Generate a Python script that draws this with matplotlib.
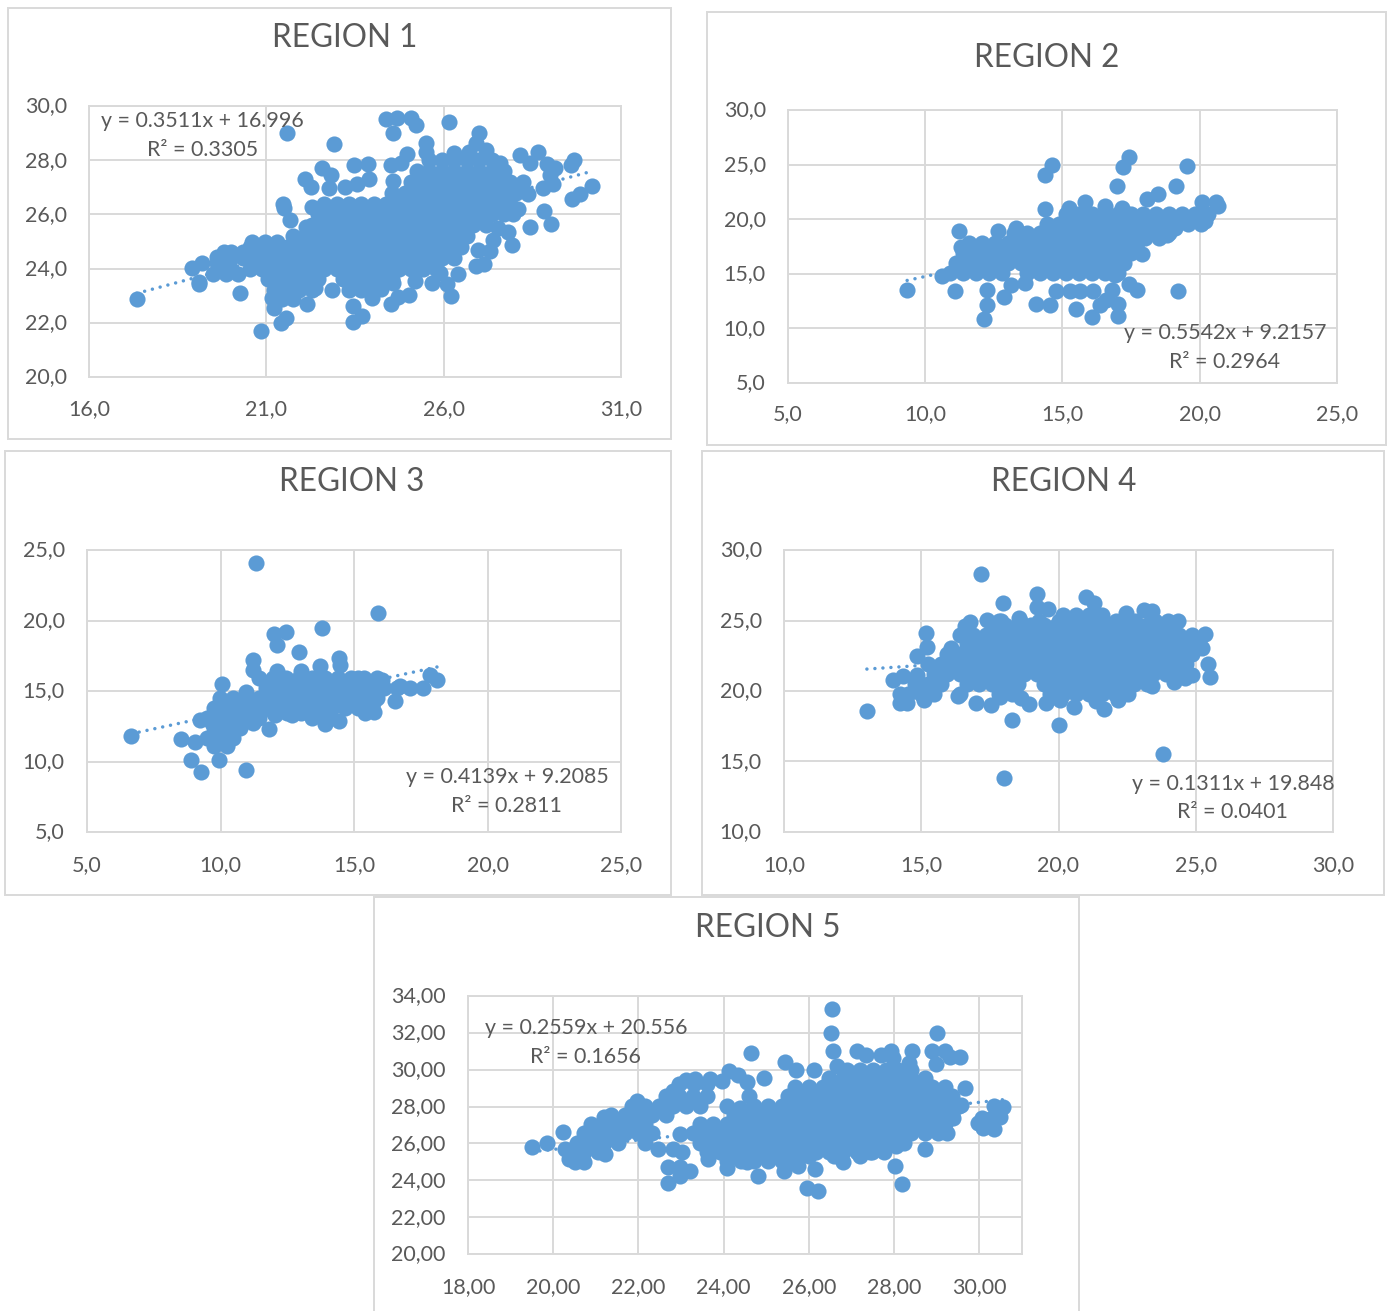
import matplotlib
matplotlib.use('Agg')
import matplotlib.pyplot as plt
from matplotlib.patches import Rectangle
from matplotlib.ticker import FuncFormatter
from matplotlib.transforms import ScaledTranslation

# Points: the dense part as (y, [x, ...]) rows, the edges as (x, y)
region1_rows = [
    (28.0, [25.6, 25.95, 26.3, 26.65, 27.0, 27.35]),
    (27.6, [25.25, 25.6, 25.95, 26.3, 26.65, 27.0, 27.35, 27.7]),
    (27.2, [25.08, 25.43, 25.78, 26.13, 26.48, 26.83, 27.18, 27.53, 27.88, 28.23]),
    (26.8, [24.55, 24.9, 25.25, 25.6, 25.95, 26.3, 26.65, 27.0, 27.35, 27.7, 28.05]),
    (26.4, [22.63, 22.98, 23.33, 23.68, 24.03, 24.38, 24.73, 25.08, 25.43, 25.78, 26.13, 26.48, 26.83, 27.18, 27.53, 27.88]),
    (26.0, [22.45, 22.8, 23.15, 23.5, 23.85, 24.2, 24.55, 24.9, 25.25, 25.6, 25.95, 26.3, 26.65, 27.0, 27.35, 27.7, 27.95]),
    (25.6, [22.28, 22.63, 22.98, 23.33, 23.68, 24.03, 24.38, 24.73, 25.08, 25.43, 25.78, 26.13, 26.48, 26.83, 27.18]),
    (25.2, [21.75, 22.1, 22.45, 22.8, 23.15, 23.5, 23.85, 24.2, 24.55, 24.9, 25.25, 25.6, 25.95, 26.3, 26.65]),
    (25.0, [20.6, 20.95, 21.3]),
    (24.8, [20.53, 20.88, 21.23, 21.58, 21.93, 22.28, 22.63, 22.98, 23.33, 23.68, 24.03, 24.38, 24.73, 25.08, 25.43, 25.78, 26.13, 26.48]),
    (24.6, [20.0, 20.35]),
    (24.4, [20.35, 20.7, 21.05, 21.4, 21.75, 22.1, 22.45, 22.8, 23.15, 23.5, 23.85, 24.2, 24.55, 24.9, 25.25, 25.6, 25.95, 26.3]),
    (24.2, [19.6, 19.95]),
    (24.0, [20.53, 20.88, 21.23, 21.58, 21.93, 22.28, 22.63, 22.98, 23.33, 23.68, 24.03, 24.38, 24.73, 25.08, 25.43, 25.78]),
    (23.8, [19.5, 19.85, 20.2]),
    (23.6, [21.05, 21.4, 21.75, 22.1, 22.45, 23.15, 23.5, 23.85, 24.2, 24.55]),
    (23.2, [21.23, 21.58, 21.93, 22.28, 23.33, 23.68, 24.03]),
]
region1_edge = [
    (17.35, 22.89), (18.9, 24.02), (19.18, 24.21), (19.11, 23.42), (19.11, 23.5), (19.8, 24.62), (19.61, 24.43),
    (20.27, 23.1), (20.85, 21.71), (21.4, 21.99), (21.56, 22.19), (21.21, 22.56), (21.17, 22.93), (21.74, 22.89),
    (21.45, 22.89), (22.15, 22.7), (22.85, 23.2), (22.36, 23.29), (23.45, 22.03), (23.7, 22.25), (23.45, 22.61),
    (24.52, 22.68), (24.7, 22.95), (25.02, 23.03), (23.98, 22.93), (24.22, 23.26), (24.56, 23.47), (25.2, 23.56),
    (26.2, 22.99), (26.09, 23.42), (25.68, 23.48), (26.41, 23.79), (25.9, 23.84), (27.14, 24.16), (26.92, 24.1),
    (26.97, 24.7), (27.31, 24.65), (27.94, 24.86), (27.38, 25.05), (27.81, 25.35), (27.52, 25.48), (28.44, 25.53),
    (29.03, 25.66), (28.83, 26.13), (28.09, 26.2), (29.62, 26.56), (29.83, 26.77), (30.17, 27.04), (29.07, 27.14),
    (28.79, 26.99), (28.38, 26.77), (29.13, 27.72), (28.9, 27.85), (29.0, 27.45), (29.67, 28.02), (29.58, 27.82),
    (28.67, 28.31), (28.14, 28.18), (28.43, 27.88), (27.6, 27.88), (27.0, 29.02), (26.9, 28.62), (27.19, 28.37),
    (26.71, 28.31), (26.28, 28.25), (26.16, 29.4), (25.49, 28.62), (25.51, 28.31), (24.96, 28.22), (24.8, 27.88),
    (24.51, 27.84), (24.37, 29.51), (24.68, 29.54), (25.08, 29.54), (25.23, 29.29), (24.58, 29.0), (22.9, 28.6),
    (21.58, 29.01), (22.58, 27.72), (23.46, 27.82), (23.86, 27.85), (22.09, 27.32), (22.26, 27.02), (22.82, 27.45),
    (22.78, 26.99), (23.22, 27.02), (23.55, 27.14), (23.89, 27.32), (24.58, 27.24), (21.46, 26.4), (21.5, 26.22),
    (22.28, 26.28), (21.68, 25.81), (22.12, 25.54),
]

region2_rows = [
    (20.5, [15.13, 15.6, 16.07, 16.54, 17.01, 17.48, 17.95, 18.42, 18.89, 19.36, 19.83, 20.3]),
    (20.1, [17.7, 18.2, 18.7, 19.2, 19.7, 20.2]),
    (19.6, [14.42, 14.89, 15.36, 15.83, 16.3, 16.77, 17.24, 17.71, 18.18, 18.65, 19.12, 19.59, 20.06]),
    (19.15, [15.6, 16.1, 16.6, 17.1, 17.6, 18.1, 18.6, 19.1]),
    (18.7, [13.25, 13.72, 14.19, 14.66, 15.13, 15.6, 16.07, 16.54, 17.01, 17.48, 17.95, 18.42, 18.89]),
    (18.25, [13.5, 14.0, 14.5, 15.0, 15.5, 16.0, 16.5, 17.0, 17.5, 18.0, 18.5]),
    (17.8, [11.6, 12.07, 12.54, 13.01, 13.48, 13.95, 14.42, 14.89, 15.36, 15.83, 16.3, 16.77, 17.24, 17.71]),
    (16.9, [11.37, 11.84, 12.31, 12.78, 13.25, 13.72, 14.19, 14.66, 15.13, 15.6, 16.07, 16.54, 17.01, 17.48]),
    (16.45, [11.6, 12.1, 12.6, 13.5, 14.4, 15.3, 16.3, 17.2]),
    (16.0, [11.13, 11.6, 12.07, 12.54, 13.01, 13.48, 13.95, 14.42, 14.89, 15.36, 15.83, 16.3, 16.77, 17.24]),
    (15.1, [10.9, 11.37, 11.84, 12.31, 12.78, 13.72, 14.19, 14.66, 15.13, 15.6, 16.07, 16.54, 17.01]),
]
region2_edge = [
    (9.34, 13.54), (10.6, 14.8), (11.07, 13.41), (11.24, 18.93), (11.29, 17.5), (12.65, 18.96), (13.32, 19.18),
    (12.26, 13.48), (12.86, 12.87), (12.25, 12.1), (12.13, 10.85), (13.14, 14.0), (13.63, 14.2), (14.05, 12.2),
    (14.55, 12.1), (15.51, 11.8), (16.09, 11.0), (17.03, 11.1), (17.03, 12.2), (16.36, 12.16), (16.6, 12.62),
    (14.78, 13.47), (15.27, 13.47), (15.63, 13.47), (16.12, 13.38), (16.79, 13.54), (17.43, 14.05), (17.72, 13.54),
    (19.22, 13.38), (14.38, 20.95), (14.36, 24.05), (14.61, 24.97), (17.19, 24.82), (17.43, 25.67), (19.53, 24.85),
    (16.97, 23.08), (19.14, 23.05), (18.49, 22.29), (18.09, 21.86), (15.82, 21.62), (15.23, 21.0), (16.56, 21.25),
    (17.15, 21.07), (20.07, 21.62), (20.6, 21.62), (20.68, 21.22), (20.19, 19.79), (18.8, 18.57), (17.88, 16.8),
    (16.91, 14.9),
]

region3_rows = [
    (15.9, [11.46, 11.95, 12.44, 12.93, 13.42, 13.91, 14.4, 14.89, 15.38, 15.87]),
    (15.55, [11.7, 12.2, 12.7, 13.2, 13.7, 14.2, 14.7, 15.2, 15.7, 16.0]),
    (15.2, [11.71, 12.2, 12.69, 13.18, 13.67, 14.16, 14.65, 15.14, 15.63, 16.12, 16.61, 17.1, 17.59]),
    (14.5, [9.99, 10.48, 10.97, 11.46, 11.95, 12.44, 12.93, 13.42, 13.91, 14.4, 14.89, 15.38, 15.87]),
    (14.15, [10.2, 10.7, 11.2, 11.7, 12.2, 12.7, 13.2, 13.7, 14.2, 14.7, 15.2, 15.7]),
    (13.8, [9.75, 10.24, 10.73, 11.22, 11.71, 12.2, 12.69, 13.18, 13.67, 14.16, 14.65, 15.14, 15.63]),
    (13.45, [9.9, 10.4, 10.9, 11.4, 12.0, 12.5, 13.0, 13.5, 14.0]),
    (13.1, [9.5, 9.99, 10.48, 10.97, 11.46, 13.42, 13.91]),
    (12.75, [9.7, 10.2, 10.7, 11.2]),
    (12.4, [9.75, 10.24, 10.73]),
    (11.7, [9.5, 9.99, 10.48]),
    (11.1, [9.75, 10.24]),
]
region3_edge = [
    (6.66, 11.83), (8.52, 11.6), (8.9, 10.08), (9.28, 9.26), (9.95, 10.08), (10.94, 9.37), (9.05, 11.36),
    (11.82, 12.3), (11.32, 24.05), (15.89, 20.56), (13.8, 19.44), (12.02, 19.04), (12.44, 19.16), (12.11, 18.29),
    (12.94, 17.74), (11.22, 17.22), (11.22, 16.47), (14.45, 17.34), (14.48, 16.87), (10.04, 15.5), (10.96, 14.9),
    (9.24, 12.97), (14.45, 12.9), (13.92, 12.66), (18.12, 15.8), (17.84, 16.16), (16.72, 15.33), (15.16, 15.92),
    (16.03, 15.8), (12.11, 16.39), (13.0, 16.39), (13.73, 16.75), (16.53, 14.27), (15.41, 13.44), (15.76, 13.51),
    (12.67, 13.32), (12.04, 13.27),
]

region4_rows = [
    (25.4, [20.17, 20.64, 21.11, 21.58]),
    (25.0, [17.9, 18.6, 19.3, 20.0, 20.7, 21.4, 22.1, 22.8, 23.5, 24.0]),
    (24.7, [17.59, 18.06, 18.53, 19.0, 19.47, 19.94, 20.41, 20.88, 21.35, 21.82, 22.29, 22.76, 23.23, 23.7, 24.17]),
    (24.0, [16.41, 16.88, 17.35, 17.82, 18.29, 18.76, 19.23, 19.7, 20.17, 20.64, 21.11, 21.58, 22.05, 22.52, 22.99, 23.46, 23.93, 24.4, 24.87]),
    (23.3, [16.65, 17.12, 17.59, 18.06, 18.53, 19.0, 19.47, 19.94, 20.41, 20.88, 21.35, 21.82, 22.29, 22.76, 23.23, 23.7, 24.17, 24.64, 25.11]),
    (22.6, [15.94, 16.41, 16.88, 17.35, 17.82, 18.29, 18.76, 19.23, 19.7, 20.17, 20.64, 21.11, 21.58, 22.05, 22.52, 22.99, 23.46, 23.93, 24.4, 24.87]),
    (21.9, [15.24, 15.71, 16.18, 16.65, 17.12, 17.59, 18.06, 18.53, 19.0, 19.47, 19.94, 20.41, 20.88, 21.35, 21.82, 22.29, 22.76, 23.23, 23.7, 24.17, 24.64]),
    (21.2, [15.47, 15.94, 16.41, 16.88, 17.35, 17.82, 18.29, 18.76, 19.23, 19.7, 20.17, 20.64, 21.11, 21.58, 22.05, 22.52, 22.99, 23.46, 23.93, 24.4]),
    (20.5, [14.77, 15.24, 15.71, 16.65, 17.12, 17.59, 18.06, 18.53, 19.47, 19.94, 20.41, 20.88, 21.35, 21.82, 22.29, 22.76, 23.23]),
    (19.8, [14.53, 15.0, 15.47, 16.41, 17.82, 18.29, 19.7, 20.17, 20.64, 21.11, 21.58, 22.05, 22.52]),
]
region4_edge = [
    (13.02, 18.56), (17.19, 28.33), (17.99, 26.23), (19.23, 26.86), (19.2, 25.94), (19.62, 25.83), (21.02, 26.65),
    (21.3, 26.27), (22.46, 25.52), (23.11, 25.75), (23.39, 25.68), (24.37, 25.0), (25.34, 24.06), (25.22, 23.04),
    (25.43, 21.93), (25.52, 20.97), (24.85, 21.16), (24.61, 20.92), (24.21, 20.64), (23.39, 20.38), (22.18, 19.34),
    (21.65, 18.75), (21.36, 19.27), (20.56, 18.87), (20.04, 19.34), (19.56, 19.15), (18.93, 19.1), (18.65, 19.5),
    (17.86, 19.58), (17.53, 18.99), (17.0, 19.15), (16.34, 19.67), (15.09, 19.39), (14.48, 19.15), (14.23, 19.15),
    (14.21, 19.81), (13.97, 20.75), (14.33, 21.04), (14.85, 21.1), (14.84, 22.45), (15.21, 23.11), (15.18, 24.1),
    (16.09, 23.04), (18.32, 17.92), (20.02, 17.62), (23.8, 15.5), (18.02, 13.8), (16.58, 24.58), (16.79, 24.86),
    (17.4, 25.05), (17.83, 25.0), (18.55, 25.17),
]

region5_rows = [
    (30.0, [26.9, 27.2, 27.5, 27.8, 28.1, 28.4]),
    (29.55, [26.48, 26.8, 27.12, 27.44, 27.76, 28.08, 28.4, 28.72]),
    (29.2, [22.95, 23.3, 23.6]),
    (29.05, [25.68, 26.0, 26.32, 26.64, 26.96, 27.28, 27.6, 27.92, 28.24, 28.56, 28.88, 29.2]),
    (28.55, [22.64, 22.96, 23.28, 23.6, 25.52, 25.84, 26.16, 26.48, 26.8, 27.12, 27.44, 27.76, 28.08, 28.4, 28.72, 29.04, 29.36]),
    (28.3, [23.0, 23.4]),
    (28.05, [21.84, 22.16, 22.48, 22.8, 23.12, 23.44, 24.72, 25.04, 25.36, 25.68, 26.0, 26.32, 26.64, 26.96, 27.28, 27.6, 27.92, 28.24, 28.56, 28.88, 29.2, 29.52]),
    (27.55, [21.36, 21.68, 22.0, 22.32, 22.64, 24.24, 24.56, 24.88, 25.2, 25.52, 25.84, 26.16, 26.48, 26.8, 27.12, 27.44, 27.76, 28.08, 28.4, 28.72, 29.04, 29.36]),
    (27.05, [20.88, 21.2, 21.52, 21.84, 22.16, 23.44, 23.76, 24.08, 24.4, 24.72, 25.04, 25.36, 25.68, 26.0, 26.32, 26.64, 26.96, 27.28, 27.6, 27.92, 28.24, 28.56, 28.88, 29.2]),
    (26.55, [20.72, 21.04, 21.36, 21.68, 22.0, 22.32, 23.28, 23.6, 23.92, 24.24, 24.56, 24.88, 25.2, 25.52, 25.84, 26.16, 26.48, 26.8, 27.12, 27.44, 27.76, 28.08, 28.4, 28.72, 29.04]),
    (26.05, [20.56, 20.88, 21.2, 21.52, 22.16, 23.44, 23.76, 24.08, 24.4, 24.72, 25.04, 25.36, 25.68, 26.0, 26.32, 26.64, 26.96, 27.28, 27.6, 27.92, 28.24]),
    (25.55, [20.4, 20.72, 21.04, 23.6, 23.92, 24.24, 24.56, 24.88, 25.2, 25.52, 25.84, 26.16, 26.48, 26.8, 27.12, 27.44, 27.76]),
    (25.3, [24.2, 24.8, 25.4, 26.0, 26.6, 27.2]),
    (25.05, [24.08, 24.4, 24.72, 25.04, 25.36, 25.68]),
]
region5_edge = [
    (19.5, 25.83), (19.85, 26.04), (20.23, 26.62), (20.36, 25.15), (20.52, 24.97), (20.73, 24.97), (21.22, 25.42),
    (20.28, 25.69), (21.18, 27.44), (21.96, 28.29), (22.82, 28.83), (23.11, 29.45), (23.33, 29.49), (23.68, 29.49),
    (23.95, 29.4), (24.13, 29.94), (24.34, 29.72), (24.55, 29.36), (24.63, 30.89), (24.59, 28.56), (24.95, 29.54),
    (25.45, 30.4), (25.7, 29.96), (26.13, 29.99), (26.53, 33.31), (26.52, 32.0), (26.57, 31.01), (26.65, 30.22),
    (27.13, 31.03), (27.34, 30.8), (27.68, 30.8), (27.92, 31.01), (27.98, 30.62), (28.41, 31.01), (28.35, 30.35),
    (29.01, 32.0), (28.89, 31.01), (29.19, 31.01), (29.32, 30.67), (29.55, 30.71), (28.99, 30.3), (29.66, 29.0),
    (30.55, 27.98), (30.34, 28.05), (30.48, 27.44), (29.97, 27.12), (30.09, 26.85), (30.34, 26.8), (30.25, 27.3),
    (30.05, 27.4), (26.8, 24.97), (27.49, 25.56), (28.02, 24.75), (28.18, 23.8), (25.95, 23.59), (26.22, 23.44),
    (26.14, 24.61), (25.75, 24.79), (25.41, 24.52), (24.81, 24.25), (24.55, 24.97), (24.07, 24.65), (23.64, 25.15),
    (22.7, 23.86), (22.7, 24.7), (22.98, 24.25), (23.21, 24.52), (22.98, 24.7), (23.02, 25.54), (22.82, 25.69),
    (22.45, 25.72), (22.98, 26.53), (24.07, 28.02), (24.38, 27.93), (28.72, 25.69), (28.05, 25.86), (29.23, 26.58),
    (29.38, 27.39), (29.58, 28.1),
]

W, H = 1387, 1311
BLUE = '#5B9BD5'
GRID = '#D9D9D9'
TEXT = '#595959'

plt.rcParams['font.family'] = ['Lato', 'DejaVu Sans']

fig = plt.figure(figsize=(W / 100, H / 100), dpi=100, facecolor='white')


def fx(px):
    return px / W


def fy(py):
    return 1 - py / H


# Draw one chart panel, all the placement arguments are in pixels of the picture
def draw_region(title, rows, edge, slope, intercept, eq, r2, frame, plot_box, title_pos,
                eq_pos, r2_pos, xlim, ylim, xticks, yticks, xpad=15, decimals=1):
    x0, y0, x1, y1 = frame
    fig.add_artist(Rectangle((fx(x0), fy(y1)), (x1 - x0) / W, (y1 - y0) / H, transform=fig.transFigure,
                             facecolor='white', edgecolor=GRID, linewidth=1.4, zorder=-1))

    left, top, right, bottom = plot_box
    ax = fig.add_axes([fx(left), fy(bottom), (right - left) / W, (bottom - top) / H])

    xs = [p[0] for p in edge]
    ys = [p[1] for p in edge]
    for y, row in rows:
        xs.extend(row)
        ys.extend([y] * len(row))

    line_x = [min(xs), max(xs)]
    line_y = [slope * v + intercept for v in line_x]
    ax.plot(line_x, line_y, color=BLUE, linewidth=2.5, dash_capstyle='round',
            linestyle=(0, (0.01, 2.3)), zorder=2)
    ax.scatter(xs, ys, s=135, color=BLUE, linewidths=0, zorder=3)

    ax.set_xlim(xlim)
    ax.set_ylim(ylim)
    ax.set_xticks(xticks)
    ax.set_yticks(yticks)
    comma = FuncFormatter(lambda v, pos: f'{v:.{decimals}f}'.replace('.', ','))
    ax.xaxis.set_major_formatter(comma)
    ax.yaxis.set_major_formatter(comma)
    ax.tick_params(length=0, labelsize=15.5, labelcolor=TEXT)
    ax.tick_params(axis='x', pad=xpad)
    ax.tick_params(axis='y', pad=16)
    # y labels sit a little higher than matplotlib centres them
    up = ScaledTranslation(0, 1.5 / 100, fig.dpi_scale_trans)
    for label in ax.get_yticklabels():
        label.set_transform(label.get_transform() + up)
    ax.grid(True, color=GRID, linewidth=1.4)
    ax.set_axisbelow(True)
    for spine in ax.spines.values():
        spine.set_color(GRID)
        spine.set_linewidth(1.4)

    fig.text(fx(title_pos[0]), fy(title_pos[1] + 2), title, fontsize=22.7, color=TEXT, ha='center', va='center')
    fig.text(fx(eq_pos[0]), fy(eq_pos[1] + 2), eq, fontsize=15.4, color=TEXT, ha='left', va='center', zorder=5)
    fig.text(fx(r2_pos[0]), fy(r2_pos[1] + 2), r2, fontsize=15.4, color=TEXT, ha='left', va='center', zorder=5)


draw_region('REGION 1', region1_rows, region1_edge, 0.3511, 16.996, 'y = 0.3511x + 16.996', 'R² = 0.3305',
            (8, 8, 671, 439), (89, 106, 621, 377), (345, 36), (101, 119), (147, 148),
            (16, 31), (20, 30), [16, 21, 26, 31], [20, 22, 24, 26, 28, 30], xpad=15.7)
draw_region('REGION 2', region2_rows, region2_edge, 0.5542, 9.2157, 'y = 0.5542x + 9.2157', 'R² = 0.2964',
            (707, 12, 1386, 445), (788, 110, 1337, 383), (1047, 56), (1124, 331), (1169, 360),
            (5, 25), (5, 30), [5, 10, 15, 20, 25], [5, 10, 15, 20, 25, 30])
draw_region('REGION 3', region3_rows, region3_edge, 0.4139, 9.2085, 'y = 0.4139x + 9.2085', 'R² = 0.2811',
            (5, 451, 671, 895), (87, 550, 621, 832), (352, 480), (406, 775), (451, 804),
            (5, 25), (5, 25), [5, 10, 15, 20, 25], [5, 10, 15, 20, 25], xpad=16.5)
draw_region('REGION 4', region4_rows, region4_edge, 0.1311, 19.848, 'y = 0.1311x + 19.848', 'R² = 0.0401',
            (702, 451, 1384, 895), (784, 550, 1333, 832), (1064, 480), (1132, 782), (1177, 810),
            (10, 30), (10, 30), [10, 15, 20, 25, 30], [10, 15, 20, 25, 30], xpad=16.5)
draw_region('REGION 5', region5_rows, region5_edge, 0.2559, 20.556, 'y = 0.2559x + 20.556', 'R² = 0.1656',
            (374, 897, 1079, 1320), (468, 996, 1022, 1254), (768, 926), (485, 1026), (530, 1055),
            (18, 31), (20, 34), [18, 20, 22, 24, 26, 28, 30], [20, 22, 24, 26, 28, 30, 32, 34],
            xpad=16.5, decimals=2)

fig.savefig('out.png', dpi=100, facecolor='white')
